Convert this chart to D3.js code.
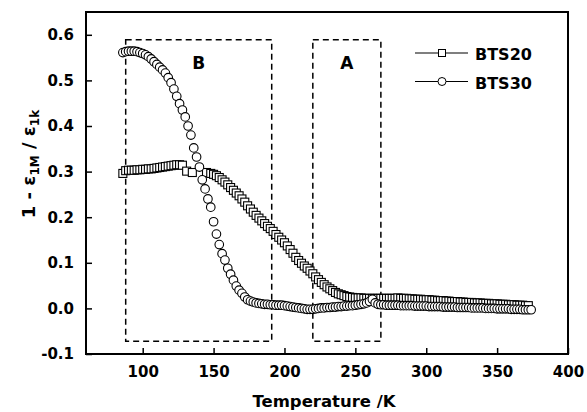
<!DOCTYPE html>
<html><head><meta charset="utf-8">
<script src="https://cdn.jsdelivr.net/npm/d3@7"></script>
<style>
body{margin:0;background:#fff;}
text{font-family:"DejaVu Sans",sans-serif;font-weight:bold;fill:#000;}
</style></head>
<body><svg id="c" width="587" height="412"></svg>
<script>
// ---- data ----
const t20 = [86,88,90,92,94,96,98,100,102,104,106,108,110,112,114,116,118,120,122,124,126,128,131,135,145,148,150,152,154,156,158,160,162,164,166,168,170,172,174,176,178,180,182,184,186,188,190,192,194,196,198,200,202,204,206,208,210,212,214,216,218,220,222,224,226,228,230,232,234,236,238,240,242,244,246,248,250,252,254,256,258,260,262,264,266,268,270,272,274,276,278,280,282,284,286,288,290,292,294,296,298,300,302,304,306,308,310,312,314,316,318,320,322,324,326,328,330,332,334,336,338,340,342,344,346,348,350,352,354,356,358,360,362,364,366,368,370,372];
const v20 = [0.296,0.302,0.303,0.303,0.303,0.304,0.304,0.305,0.305,0.306,0.306,0.307,0.308,0.309,0.310,0.311,0.312,0.313,0.314,0.315,0.315,0.314,0.301,0.298,0.298,0.296,0.294,0.291,0.287,0.282,0.277,0.271,0.265,0.259,0.253,0.247,0.240,0.233,0.225,0.218,0.211,0.204,0.198,0.192,0.186,0.180,0.175,0.169,0.162,0.156,0.150,0.144,0.137,0.129,0.121,0.112,0.105,0.099,0.093,0.088,0.082,0.076,0.069,0.063,0.057,0.052,0.047,0.043,0.039,0.035,0.032,0.030,0.028,0.026,0.025,0.024,0.023,0.023,0.023,0.022,0.022,0.022,0.022,0.022,0.022,0.022,0.022,0.022,0.022,0.022,0.022,0.023,0.022,0.022,0.022,0.021,0.021,0.020,0.020,0.020,0.019,0.019,0.019,0.018,0.018,0.017,0.017,0.017,0.016,0.016,0.015,0.015,0.015,0.014,0.014,0.013,0.013,0.013,0.012,0.012,0.012,0.011,0.011,0.011,0.010,0.010,0.010,0.009,0.009,0.009,0.008,0.008,0.008,0.007,0.007,0.007,0.006,0.006];
const t30 = [86,88,90,92,94,96,98,100,102,104,106,108,110,112,114,116,118,120,122,124,126,128,130,132,134,136,138,140,142,144,146,148,150,152,154,156,158,160,162,164,166,168,170,172,174,176,178,180,182,184,186,188,190,192,194,196,198,200,202,204,206,208,210,212,214,216,218,220,222,224,226,228,230,232,234,236,238,240,242,244,246,248,250,252,254,256,258,260,262,264,266,268,270,272,274,276,278,280,282,284,286,288,290,292,294,296,298,300,302,304,306,308,310,312,314,316,318,320,322,324,326,328,330,332,334,336,338,340,342,344,346,348,350,352,354,356,358,360,362,364,366,368,370,372,374];
const v30 = [0.561,0.563,0.564,0.564,0.564,0.563,0.561,0.559,0.556,0.552,0.547,0.541,0.535,0.529,0.523,0.516,0.506,0.495,0.481,0.465,0.449,0.435,0.420,0.400,0.380,0.352,0.332,0.310,0.282,0.262,0.240,0.222,0.190,0.163,0.140,0.120,0.106,0.088,0.075,0.062,0.049,0.040,0.033,0.025,0.019,0.016,0.014,0.012,0.011,0.010,0.009,0.009,0.008,0.008,0.007,0.007,0.007,0.006,0.005,0.004,0.003,0.002,0.001,0.000,-0.001,-0.002,-0.002,-0.002,-0.001,0.000,0.001,0.001,0.002,0.002,0.003,0.003,0.004,0.004,0.005,0.005,0.006,0.006,0.007,0.008,0.009,0.010,0.012,0.015,0.020,0.012,0.009,0.008,0.008,0.007,0.007,0.007,0.007,0.007,0.006,0.006,0.006,0.006,0.006,0.005,0.005,0.005,0.005,0.005,0.004,0.004,0.004,0.004,0.004,0.003,0.003,0.003,0.003,0.003,0.002,0.002,0.002,0.002,0.002,0.001,0.001,0.001,0.001,0.001,0.000,0.000,0.000,0.000,-0.001,-0.001,-0.001,-0.001,-0.001,-0.002,-0.002,-0.002,-0.002,-0.003,-0.003,-0.003,-0.003];
const xTicks = [100,150,200,250,300,350,400];
const yTicks = [-0.1,0.0,0.1,0.2,0.3,0.4,0.5,0.6];
const seriesNames = ["BTS20","BTS30"];
const boxB = {x0:88, x1:191, y0:-0.072, y1:0.589, label:"B"};
const boxA = {x0:220, x1:268, y0:-0.072, y1:0.589, label:"A"};

// ---- layout ----
const FONT = "'DejaVu Sans',sans-serif";
const svg = d3.select("#c");
const L=86, R=568, T=12, B=354;
const x = d3.scaleLinear().domain([60,400]).range([L,R]);
const y = d3.scaleLinear().domain([-0.1,0.65]).range([B,T]);

// frame
svg.append("rect").attr("x",L).attr("y",T).attr("width",R-L).attr("height",B-T)
  .attr("fill","none").attr("stroke","#000").attr("stroke-width",2);

// x axis ticks (inward)
const gx = svg.append("g").attr("transform",`translate(0,${B})`);
gx.call(d3.axisBottom(x).tickValues(d3.range(75,401,25)).tickSize(-3).tickFormat(""))
  .call(g=>g.select(".domain").remove());
gx.call(d3.axisBottom(x).tickValues(xTicks).tickSize(-6).tickPadding(12).tickFormat(d3.format("d")))
  .call(g=>g.select(".domain").remove());
gx.selectAll("line").attr("stroke","#000").attr("stroke-width",1.5);
gx.selectAll("text").attr("font-size",15).attr("font-family",FONT).attr("font-weight","bold");

const fmtY = d => d3.format(".1f")(d).replace("\u2212","-");
const gy = svg.append("g").attr("transform",`translate(${L},0)`);
gy.call(d3.axisLeft(y).tickValues(d3.range(-0.1,0.651,0.05)).tickSize(-3).tickFormat(""))
  .call(g=>g.select(".domain").remove());
gy.call(d3.axisLeft(y).tickValues(yTicks).tickSize(-6).tickPadding(12).tickFormat(fmtY))
  .call(g=>g.select(".domain").remove());
gy.selectAll("line").attr("stroke","#000").attr("stroke-width",1.5);
gy.selectAll("text").attr("font-size",15).attr("font-family",FONT).attr("font-weight","bold");

// dashed boxes
[boxB,boxA].forEach(b=>{
  svg.append("rect").attr("x",x(b.x0)).attr("y",y(b.y1))
    .attr("width",x(b.x1)-x(b.x0)).attr("height",y(b.y0)-y(b.y1))
    .attr("fill","none").attr("stroke","#000").attr("stroke-width",1.5)
    .attr("stroke-dasharray","6,4");
  svg.append("text").attr("x",(x(b.x0)+x(b.x1))/2).attr("y",y(b.y1)+29)
    .attr("text-anchor","middle").attr("font-size",17).text(b.label);
});

// series
const d20 = t20.map((t,i)=>({t, v:v20[i]}));
const d30 = t30.map((t,i)=>({t, v:v30[i]}));
const s=8;
svg.append("g").selectAll("rect").data(d20).join("rect")
  .attr("x",d=>x(d.t)-s/2).attr("y",d=>y(d.v)-s/2).attr("width",s).attr("height",s)
  .attr("fill","#fff").attr("stroke","#000").attr("stroke-width",1.1);
svg.append("g").selectAll("circle").data(d30).join("circle")
  .attr("cx",d=>x(d.t)).attr("cy",d=>y(d.v)).attr("r",4.3)
  .attr("fill","#fff").attr("stroke","#000").attr("stroke-width",1.1);

// legend
const lg = svg.append("g");
seriesNames.forEach((n,i)=>{
  const yy = 53 + i*28.5;
  lg.append("line").attr("x1",415).attr("x2",468).attr("y1",yy).attr("y2",yy).attr("stroke","#000").attr("stroke-width",1.2);
  if(i===0) lg.append("rect").attr("x",442-3.5).attr("y",yy-3.5).attr("width",7).attr("height",7).attr("fill","#fff").attr("stroke","#000");
  else lg.append("circle").attr("cx",442).attr("cy",yy).attr("r",4).attr("fill","#fff").attr("stroke","#000");
  lg.append("text").attr("x",475).attr("y",yy+7).attr("font-size",16).text(n);
});

// axis titles
svg.append("text").attr("x",(L+R)/2-3).attr("y",407).attr("text-anchor","middle").attr("font-size",16.5).text("Temperature /K");
const yl = svg.append("text").attr("transform","translate(35,164) rotate(-90)").attr("text-anchor","middle").attr("font-size",18);
yl.append("tspan").text("1 - ε");
yl.append("tspan").attr("font-size",12).attr("dy",4).text("1M");
yl.append("tspan").attr("dy",-4).text(" / ε");
yl.append("tspan").attr("font-size",12).attr("dy",4).text("1k");
</script></body></html>
